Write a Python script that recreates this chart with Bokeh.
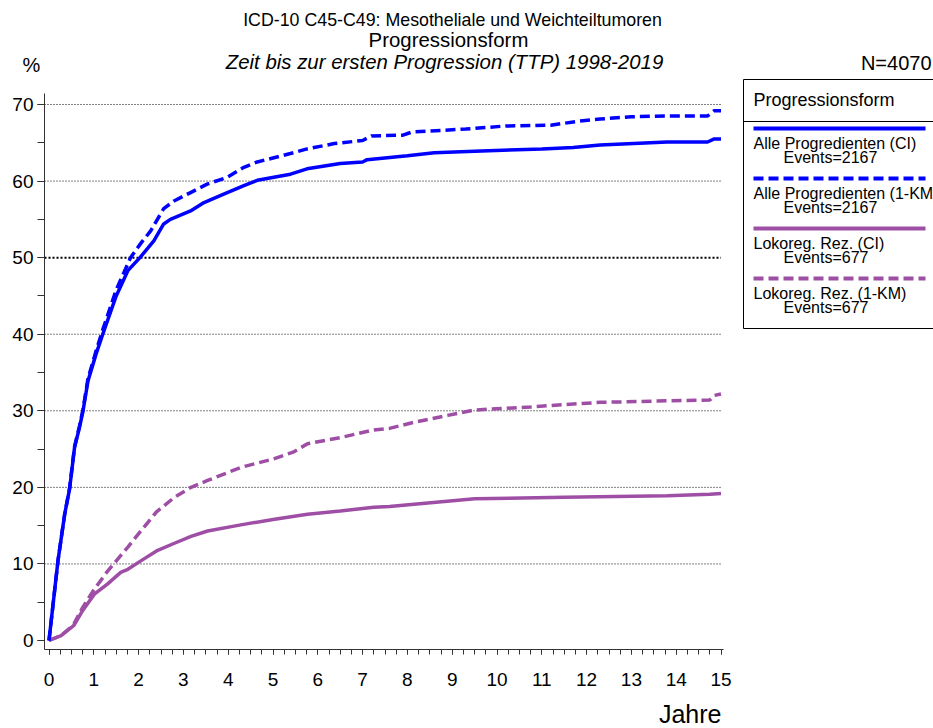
from bokeh.plotting import figure
from bokeh.models import Range1d, SingleIntervalTicker
from bokeh.embed import file_html
from bokeh.resources import INLINE
from bokeh.core.properties import value

# ---------------- data ----------------
title_lines = ["ICD-10 C45-C49: Mesotheliale und Weichteiltumoren",
               "Progressionsform",
               "Zeit bis zur ersten Progression (TTP) 1998-2019"]
y_unit = "%"
x_label = "Jahre"
n_label = "N=4070"
legend_title = "Progressionsform"

series_names = ["Alle Progredienten (CI)", "Alle Progredienten (1-KM)",
                "Lokoreg. Rez. (CI)", "Lokoreg. Rez. (1-KM)"]
series_events = [2167, 2167, 677, 677]

grid_ticks = [10, 20, 30, 40, 60, 70]
median_line = [50]

years_alle_ci = [0, 0.2, 0.35, 0.46, 0.57, 0.68, 0.76, 0.87, 1.05, 1.2, 1.5, 1.76, 2.03,
                 2.34, 2.56, 2.71, 3.16, 3.46, 3.9, 4.35, 4.65, 5.39, 5.76, 6.5, 7.0,
                 7.1, 8.0, 8.6, 9.5, 10.45, 11.0, 11.7, 12.3, 13.05, 13.8, 14.7, 14.85, 15.0]
pct_alle_ci = [0, 10.4, 16.5, 19.8, 25.2, 27.8, 30.0, 33.9, 37.4, 40.0, 45.0, 48.3, 50.0,
               52.2, 54.4, 55.0, 56.1, 57.2, 58.3, 59.4, 60.1, 60.9, 61.6, 62.3, 62.5,
               62.8, 63.3, 63.7, 63.9, 64.1, 64.2, 64.4, 64.7, 64.9, 65.1, 65.1, 65.5, 65.5]

years_alle_km = [0, 0.2, 0.35, 0.46, 0.57, 0.68, 0.76, 0.87, 1.05, 1.2, 1.5, 1.76, 1.82,
                 2.04, 2.27, 2.56, 2.79, 3.16, 3.53, 3.98, 4.35, 4.65, 5.39, 5.76, 6.37,
                 7.0, 7.2, 7.9, 8.1, 9.3, 10.2, 11.2, 11.8, 12.3, 13.0, 13.8, 14.7, 14.85, 15.0]
pct_alle_km = [0, 10.4, 16.5, 19.9, 25.3, 28.0, 30.2, 34.2, 37.8, 40.6, 45.8, 49.2, 50.0,
               51.8, 53.5, 56.4, 57.4, 58.5, 59.6, 60.5, 61.8, 62.5, 63.6, 64.2, 64.9,
               65.3, 65.9, 66.0, 66.4, 66.8, 67.2, 67.3, 67.8, 68.1, 68.4, 68.5, 68.5, 69.2, 69.2]

years_lok_ci = [0, 0.27, 0.5, 0.56, 0.75, 1.02, 1.31, 1.6, 1.76, 2.05, 2.4, 2.8, 3.17, 3.54,
                4.28, 5.0, 5.77, 6.5, 7.25, 7.6, 8.15, 9.5, 11.5, 13.8, 14.75, 15.0]
pct_lok_ci = [0, 0.65, 1.7, 2.0, 3.9, 6.1, 7.4, 8.9, 9.3, 10.4, 11.7, 12.7, 13.6, 14.3,
              15.1, 15.8, 16.5, 16.9, 17.4, 17.5, 17.8, 18.5, 18.7, 18.9, 19.1, 19.2]

years_lok_km = [0, 0.27, 0.5, 0.56, 0.75, 1.0, 1.3, 1.6, 1.76, 2.05, 2.4, 2.8, 3.17, 3.54,
                4.28, 5.0, 5.45, 5.77, 6.5, 7.25, 7.6, 8.15, 8.9, 9.5, 10.75, 11.5, 12.3,
                13.8, 14.75, 14.85, 15.0]
pct_lok_km = [0, 0.65, 1.8, 2.2, 4.3, 6.6, 9.0, 11.1, 12.2, 14.3, 16.8, 18.7, 20.0, 20.9,
              22.6, 23.7, 24.6, 25.7, 26.5, 27.5, 27.7, 28.5, 29.4, 30.1, 30.5, 30.8, 31.1,
              31.3, 31.4, 32.0, 32.2]

# ---------------- style / layout ----------------
FONT = "Liberation Sans"
BLUE = "#0000FF"
PURPLE = "#9E4FA5"
colors = [BLUE, BLUE, PURPLE, PURPLE]
dashes = ["solid", "10 5", "solid", "10 5"]
series_x = [years_alle_ci, years_alle_km, years_lok_ci, years_lok_km]
series_y = [pct_alle_ci, pct_alle_km, pct_lok_ci, pct_lok_km]

W, H = 933, 728                     # the plot frame covers the whole canvas
AXIS_X_PX, AXIS_Y_PX = 44, 649      # pixel position of the y axis / x axis lines
ZERO_X_PX, ZERO_Y_PX = 48.5, 640    # pixel position of the data origin
PX_PER_YEAR, PX_PER_PCT = 44.8, 7.657
X_DATA_MAX, X_AXIS_MAX, Y_AXIS_MAX = 15.0, 15.056, 71.43

x_start = -ZERO_X_PX / PX_PER_YEAR
x_end = x_start + W / PX_PER_YEAR
y_start = -(H - ZERO_Y_PX) / PX_PER_PCT
y_end = ZERO_Y_PX / PX_PER_PCT
x_axis_loc = (AXIS_X_PX - ZERO_X_PX) / PX_PER_YEAR
y_axis_loc = -(AXIS_Y_PX - ZERO_Y_PX) / PX_PER_PCT

p = figure(width=W, height=H,
           x_range=Range1d(x_start, x_end), y_range=Range1d(y_start, y_end),
           output_backend="svg", toolbar_location=None,
           min_border_left=0, min_border_right=0, min_border_top=0, min_border_bottom=0)
p.outline_line_color = None
p.background_fill_color = "white"
p.border_fill_color = "white"
# pixel ranges (origin top-left) for the captions and the legend
p.extra_x_ranges = {"px": Range1d(0, W)}
p.extra_y_ranges = {"px": Range1d(H, 0)}

for ax in (p.xaxis[0], p.yaxis[0]):
    ax.axis_line_color = "#333333"
    ax.major_tick_line_color = "#333333"
    ax.minor_tick_line_color = "#333333"
    ax.major_tick_in = 0
    ax.minor_tick_in = 0
    ax.major_label_text_font = FONT
    ax.major_label_text_font_size = "19px"
    ax.major_label_text_color = "black"

p.xaxis.ticker = SingleIntervalTicker(interval=1, num_minor_ticks=4)
p.xaxis.fixed_location = y_axis_loc
p.xaxis.bounds = (x_axis_loc, X_AXIS_MAX)
p.xaxis.major_tick_out = 5
p.xaxis.minor_tick_out = 5
p.xaxis.major_label_standoff = 18

p.yaxis.ticker = SingleIntervalTicker(interval=10, num_minor_ticks=2)
p.yaxis.fixed_location = x_axis_loc
p.yaxis.bounds = (y_axis_loc, Y_AXIS_MAX)
p.yaxis.major_tick_out = 7
p.yaxis.minor_tick_out = 7
p.yaxis.major_label_standoff = 4

p.xgrid.visible = False
p.ygrid.visible = False
p.segment(x0=[x_axis_loc] * len(grid_ticks), y0=grid_ticks,
          x1=[X_DATA_MAX] * len(grid_ticks), y1=grid_ticks,
          line_color="black", line_width=1, line_dash="1 2", level="underlay")
p.segment(x0=[x_axis_loc], y0=median_line, x1=[X_DATA_MAX], y1=median_line,
          line_color="black", line_width=2, line_dash="2 2", level="underlay")

for i in [3, 2, 1, 0]:
    p.line(series_x[i], series_y[i], line_color=colors[i], line_width=3.5,
           line_dash=dashes[i])


def caption(x, y, text, size, align="center", style="normal", baseline="middle"):
    p.text(x=[x], y=[y], text=[text], text_font=value(FONT), text_font_size=size,
           text_font_style=style, text_align=align, text_baseline=baseline,
           text_color="black", x_range_name="px", y_range_name="px")


caption(452, 19, title_lines[0], "17.8px")
caption(448, 39, title_lines[1], "20.4px")
caption(444, 61, title_lines[2], "20.4px", style="italic")
caption(22, 64, y_unit, "20px", align="left")
caption(721, 713, x_label, "25px", align="right")
caption(931, 62, n_label, "20px", align="right")

# ---------------- legend (pixel coordinates) ----------------
box_left, box_top, box_bottom, box_sep, box_right = 743, 79, 328, 121, 1010
p.segment(x0=[box_left, box_left, box_left, box_left],
          y0=[box_top, box_top, box_bottom, box_sep],
          x1=[box_left, box_right, box_right, box_right],
          y1=[box_bottom, box_top, box_bottom, box_sep],
          line_color="black", line_width=1, x_range_name="px", y_range_name="px")
caption(753, 99, legend_title, "18px", align="left")

for i, (name, ev) in enumerate(zip(series_names, series_events)):
    y0 = 128 + 50 * i
    p.line([753, 925], [y0, y0], line_color=colors[i], line_width=4, line_dash=dashes[i],
           x_range_name="px", y_range_name="px")
    caption(753, y0 + 15, name, "16px", align="left")
    caption(783, y0 + 29, "Events=%d" % ev, "16px", align="left")

open("out.html", "w").write(file_html(p, INLINE))
